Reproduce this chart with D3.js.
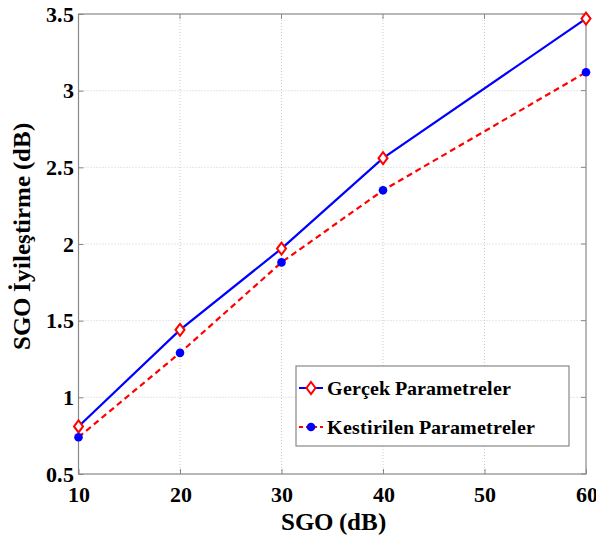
<!DOCTYPE html>
<html>
<head>
<meta charset="utf-8">
<script src="https://cdn.jsdelivr.net/npm/d3@7"></script>
<style>
  @font-face { font-family: "ChartSerif"; src: local("Liberation Serif Bold"), local("LiberationSerif-Bold"), local("Times New Roman Bold"); font-weight: bold; }
  body { margin: 0; }
  #chart text { font-family: "ChartSerif", "Liberation Serif", serif !important; font-weight: bold; }
</style>
</head>
<body>
<svg id="chart" width="596" height="540"></svg>
<script>
const sgo = [10, 20, 30, 40, 60];
const gercek = [0.81, 1.44, 1.97, 2.56, 3.47];
const kestirilen = [0.74, 1.29, 1.88, 2.35, 3.12];
const xTicks = [10, 20, 30, 40, 50, 60];
const yTicks = [0.5, 1, 1.5, 2, 2.5, 3, 3.5];
const seriesNames = ["Gerçek Parametreler", "Kestirilen Parametreler"];

const margin = { top: 14, right: 10, bottom: 66, left: 78.5 };
const width = 596 - margin.left - margin.right;
const height = 540 - margin.top - margin.bottom;

const svg = d3.select("#chart");
const g = svg.append("g").attr("transform", `translate(${margin.left},${margin.top})`);

const x = d3.scaleLinear().domain([10, 60]).range([0, width]);
const y = d3.scaleLinear().domain([0.5, 3.5]).range([height, 0]);

function serif(sel, size) {
  return sel.attr("font-weight", "bold").attr("font-size", size).attr("fill", "#000");
}

// grid
g.append("g").selectAll("line").data(xTicks.slice(1, -1)).enter().append("line")
  .attr("x1", d => x(d)).attr("x2", d => x(d)).attr("y1", 0).attr("y2", height)
  .attr("stroke", "#ccc").attr("stroke-dasharray", "1,2");
g.append("g").selectAll("line").data(yTicks.slice(1, -1)).enter().append("line")
  .attr("y1", d => y(d)).attr("y2", d => y(d)).attr("x1", 0).attr("x2", width)
  .attr("stroke", "#ccc").attr("stroke-dasharray", "1,2");

// box
g.append("rect").attr("width", width).attr("height", height)
  .attr("fill", "none").attr("stroke", "#888").attr("stroke-width", 1.2);

// axes
const xAxis = g.append("g").attr("transform", `translate(0,${height})`)
  .call(d3.axisBottom(x).tickValues(xTicks).tickSize(-5).tickPadding(12).tickFormat(d3.format("d")));
const yAxis = g.append("g")
  .call(d3.axisLeft(y).tickValues(yTicks).tickSize(-5).tickPadding(5).tickFormat(d => d));
[xAxis, yAxis].forEach(a => {
  a.select(".domain").remove();
  a.attr("font-family", null).attr("font-size", 22);
  a.selectAll(".tick line").attr("stroke", "#888");
  serif(a.selectAll("text"), 22);
});
// right and top ticks
g.append("g").selectAll("line").data(yTicks).enter().append("line")
  .attr("x1", width).attr("x2", width - 5).attr("y1", d => y(d)).attr("y2", d => y(d))
  .attr("stroke", "#888");
g.append("g").selectAll("line").data(xTicks).enter().append("line")
  .attr("x1", d => x(d)).attr("x2", d => x(d)).attr("y1", 0).attr("y2", 5)
  .attr("stroke", "#888");

// lines
const line = d3.line().x(d => x(d[0])).y(d => y(d[1]));
const gData = sgo.map((s, i) => [s, gercek[i]]);
const kData = sgo.map((s, i) => [s, kestirilen[i]]);

g.append("path").datum(gData).attr("d", line)
  .attr("fill", "none").attr("stroke", "#0000ff").attr("stroke-width", 2.2);
g.append("path").datum(kData).attr("d", line)
  .attr("fill", "none").attr("stroke", "#ff0000").attr("stroke-width", 2.2).attr("stroke-dasharray", "6,4");

const diamond = "M0,-6L4.5,0L0,6L-4.5,0Z";
g.append("g").selectAll("path").data(gData).enter().append("path")
  .attr("d", diamond).attr("transform", d => `translate(${x(d[0])},${y(d[1])})`)
  .attr("fill", "#fff").attr("stroke", "#ff0000").attr("stroke-width", 2);
g.append("g").selectAll("circle").data(kData).enter().append("circle")
  .attr("cx", d => x(d[0])).attr("cy", d => y(d[1])).attr("r", 4.3)
  .attr("fill", "#0000ff");

// axis labels
serif(svg.append("text").attr("x", 333).attr("y", 530)
  .attr("text-anchor", "middle"), 25).text("SGO (dB)");
serif(svg.append("text").attr("transform", "translate(30,236) rotate(-90)")
  .attr("text-anchor", "middle"), 25).text("SGO İyileştirme (dB)");

// legend
const lg = svg.append("g").attr("transform", "translate(296,366)");
lg.append("rect").attr("width", 273).attr("height", 80)
  .attr("fill", "#fff").attr("stroke", "#888").attr("stroke-width", 1.2);
const rows = [
  { name: seriesNames[0], color: "#0000ff", dash: null, marker: "diamond", y: 22 },
  { name: seriesNames[1], color: "#ff0000", dash: "4,3", marker: "circle", y: 61 }
];
rows.forEach(r => {
  lg.append("line").attr("x1", 3).attr("x2", 27).attr("y1", r.y).attr("y2", r.y)
    .attr("stroke", r.color).attr("stroke-width", 2).attr("stroke-dasharray", r.dash);
  if (r.marker === "diamond") {
    lg.append("path").attr("d", diamond).attr("transform", `translate(15,${r.y})`)
      .attr("fill", "#fff").attr("stroke", "#ff0000").attr("stroke-width", 2);
  } else {
    lg.append("circle").attr("cx", 15).attr("cy", r.y).attr("r", 4.3).attr("fill", "#0000ff");
  }
  serif(lg.append("text").attr("x", 31).attr("y", r.y + 7), 20).text(r.name);
});
</script>
</body>
</html>
